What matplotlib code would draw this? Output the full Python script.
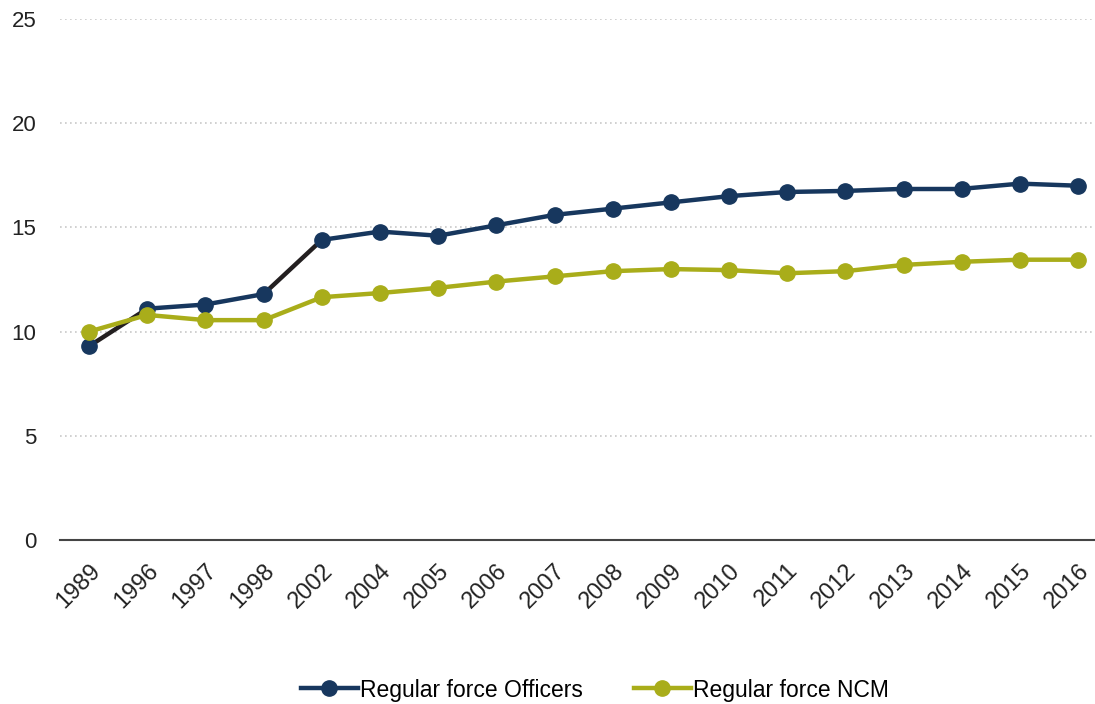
import matplotlib
matplotlib.use("Agg")
import matplotlib.pyplot as plt
from matplotlib.lines import Line2D

years = ["1989", "1996", "1997", "1998", "2002", "2004", "2005", "2006", "2007",
         "2008", "2009", "2010", "2011", "2012", "2013", "2014", "2015", "2016"]
officers = [9.3, 11.1, 11.3, 11.8, 14.4, 14.8, 14.6, 15.1, 15.6, 15.9, 16.2, 16.5,
            16.7, 16.75, 16.85, 16.85, 17.1, 17.0]
ncm = [10.0, 10.8, 10.55, 10.55, 11.65, 11.85, 12.1, 12.4, 12.65, 12.9, 13.0, 12.95,
       12.8, 12.9, 13.2, 13.35, 13.45, 13.45]

navy = "#17375e"
olive = "#a9ad1a"
dark = "#231f20"

plt.rcParams['font.family'] = ['Liberation Sans', 'DejaVu Sans']

fig = plt.figure(figsize=(10.95, 7.04), dpi=100)
ax = fig.add_axes([60/1095, (704-540)/704, (1095-60)/1095, (540-19)/704])

x = list(range(len(years)))
for i in range(len(x) - 1):
    col = dark if i in (0, 3) else navy
    ax.plot(x[i:i+2], officers[i:i+2], color=col, lw=3.2, solid_capstyle='round', zorder=3)
ax.plot(x, officers, ls='none', marker='o', ms=11, color=navy, zorder=4)
ax.plot(x, ncm, color=olive, lw=3.2, marker='o', ms=11, zorder=5)

ax.set_xlim(-0.5, 17.29)
ax.set_ylim(0, 25)
ax.set_yticks([0, 5, 10, 15, 20, 25])
ax.set_xticks(x)
ax.set_xticklabels(years, rotation=45, ha='right', rotation_mode='anchor')
ax.tick_params(axis='both', length=0, colors='#222222')
ax.tick_params(axis='y', pad=17, labelsize=16)
ax.tick_params(axis='x', pad=14, labelsize=17)
for s in ['top', 'right', 'left']:
    ax.spines[s].set_visible(False)
ax.spines['bottom'].set_color('#444444')
ax.spines['bottom'].set_linewidth(1.5)
for yv in [5, 10, 15, 20, 25]:
    ax.axhline(yv, color='#c8c8c8', lw=1.2, ls=(0, (1, 2)), zorder=1)

handles = [Line2D([], [], color=navy, lw=3.2, marker='o', ms=11),
           Line2D([], [], color=olive, lw=3.2, marker='o', ms=11)]
fig.legend(handles, ["Regular force Officers", "Regular force NCM"], loc='center',
           bbox_to_anchor=(595/1095, 1 - 690/704), ncol=2, frameon=False,
           fontsize=16.5, handlelength=2.5, handletextpad=0.1, columnspacing=2.2)

fig.savefig("out.png", dpi=100)
